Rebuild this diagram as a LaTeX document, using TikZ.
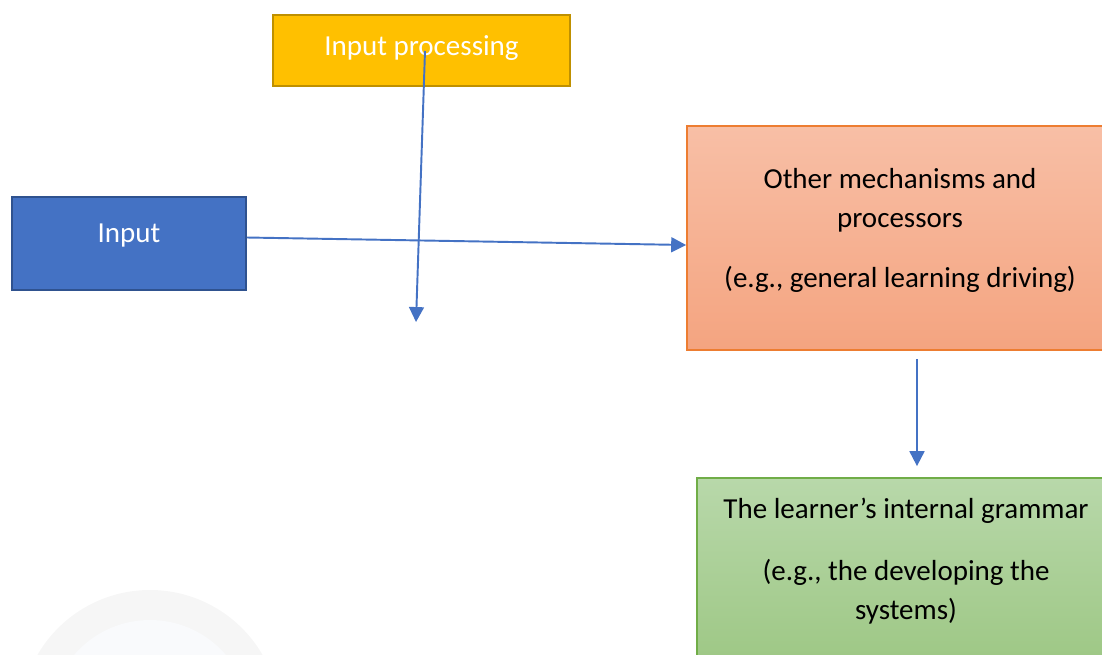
\documentclass[tikz,border=0pt]{standalone}
\usepackage{fontspec}
\setmainfont{Carlito}
\usetikzlibrary{arrows.meta,shadings}
\definecolor{procfill}{HTML}{FFC000}
\definecolor{procline}{HTML}{BF9000}
\definecolor{infill}{HTML}{4472C4}
\definecolor{inline}{HTML}{2F528F}
\definecolor{mechtop}{HTML}{F8BFA6}
\definecolor{mechbot}{HTML}{F4A480}
\definecolor{mechline}{HTML}{ED7D31}
\definecolor{gramtop}{HTML}{B8D8AA}
\definecolor{grambot}{HTML}{9DC784}
\definecolor{gramline}{HTML}{70AD47}
\definecolor{flowblue}{HTML}{4472C4}
\definecolor{markring}{HTML}{F6F6F6}
\definecolor{markcore}{HTML}{F9FAFC}
\begin{document}
\begin{tikzpicture}[
    box/.style={draw, line width=1pt, inner sep=0pt},
    label/.style={font=\fontsize{16.5}{22}\selectfont, align=center, inner sep=0pt},
    flow/.style={flowblue, line width=1.1pt, -{Triangle[length=8.5pt,width=8.5pt]}}
  ]
    \useasboundingbox (0,0) rectangle (22.04,-13.1);
    \clip (0,0) rectangle (22.04,-13.1);

    % faint watermark
    \fill[markring] (3,-14.4) circle (2.6);
    \fill[markcore] (3,-14.4) circle (2.0);

    % Input processing
    \node[box, draw=procline, fill=procfill, minimum width=5.94cm, minimum height=1.42cm] (procbox) at (8.43,-1.01) {};
    \node[label, white] (proctext) at (8.43,-0.97) {Input processing};

    % Input
    \node[box, draw=inline, fill=infill, minimum width=4.68cm, minimum height=1.86cm] (inbox) at (2.58,-4.87) {};
    \node[label, white] (intext) at (2.58,-4.72) {Input};

    % Other mechanisms and processors
    \node[box, draw=mechline, top color=mechtop, bottom color=mechbot, minimum width=8.4cm, minimum height=4.48cm] (mechbox) at (17.94,-4.76) {};
    \node[label] (mechtext) at (18.0,-4.0) {Other mechanisms and\\processors};
    \node[label] (mechnote) at (18.0,-5.59) {(e.g., general learning driving)};

    % The learner's internal grammar
    \node[box, draw=gramline, top color=gramtop, bottom color=grambot, minimum width=8.2cm, minimum height=3.8cm] (grambox) at (18.04,-11.46) {};
    \node[label] (gramtext) at (18.12,-10.21) {The learner’s internal grammar};
    \node[label] (gramnote) at (18.12,-11.83) {(e.g., the developing the\\systems)};

    % connectors
    \coordinate (procsrc) at (8.5,-1.02);
    \coordinate (procend) at (8.32,-6.44);
    \draw[flow] (procsrc) -- (procend);
    \draw[flow] ([yshift=0.12cm]inbox.east) -- ([yshift=-0.14cm]mechbox.west);
    \coordinate (mechsrc) at ([xshift=0.4cm,yshift=-0.16cm]mechbox.south);
    \coordinate (gramend) at ([xshift=0.3cm,yshift=0.22cm]grambox.north);
    \draw[flow] (mechsrc) -- (mechsrc |- gramend);
\end{tikzpicture}
\end{document}
